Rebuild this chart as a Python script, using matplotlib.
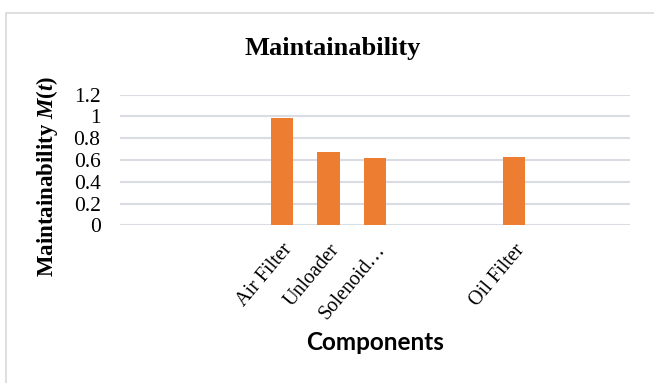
import matplotlib.pyplot as plt
from matplotlib.patches import Rectangle

# categories (Excel chart kept blank slots between the bars)
categories = ['', '', '', 'Air Filter', 'Unloader', 'Solenoid…', '', '', 'Oil Filter', '', '']
values = [0, 0, 0, 0.99, 0.67, 0.615, 0, 0, 0.63, 0, 0]
y_ticks = [0, 0.2, 0.4, 0.6, 0.8, 1, 1.2]
y_tick_labels = ['0', '0.2', '0.4', '0.6', '0.8', '1', '1.2']

serif = ['Liberation Serif', 'DejaVu Serif']
plt.rcParams['mathtext.fontset'] = 'custom'
plt.rcParams['mathtext.rm'] = 'Liberation Serif:bold'
plt.rcParams['mathtext.it'] = 'Liberation Serif:italic:bold'
plt.rcParams['mathtext.bf'] = 'Liberation Serif:bold'

fig = plt.figure(figsize=(6.54, 3.83), dpi=100)
ax = fig.add_axes([0.1835, 0.4117, 0.7795, 0.341])

x = list(range(len(categories)))
ax.bar(x, values, width=0.48, color='#ED7D31', zorder=3)

ax.set_xlim(-0.5, len(categories) - 0.5)
ax.set_ylim(0, 1.2)
ax.set_yticks(y_ticks)
ax.set_yticklabels(y_tick_labels, fontfamily=serif, fontsize=15.5)
ax.yaxis.grid(True, color='#D9DDE3', linewidth=1.5, zorder=0)
ax.set_axisbelow(True)

ax.set_xticks(x)
ax.set_xticklabels(categories, rotation=50, ha='right', rotation_mode='anchor',
                   fontfamily=serif, fontsize=14.5)
ax.tick_params(axis='both', length=0)
ax.tick_params(axis='y', pad=14)
ax.tick_params(axis='x', pad=11)

for s in ax.spines.values():
    s.set_visible(False)

# titles
fig.text(0.509, 0.873, 'Maintainability', ha='center', va='center',
         fontfamily=serif, fontsize=19, fontweight='bold')
fig.text(0.574, 0.105, 'Components', ha='center', va='center',
         fontfamily=['Lato', 'DejaVu Sans'], fontsize=17.5, fontweight='bold')
fig.text(0.072, 0.538, r'Maintainability $M(t)$', ha='center', va='center',
         rotation=90, fontfamily=serif, fontsize=16.5, fontweight='bold')

# light chart border
fig.patches.append(Rectangle((6 / 654, -0.05), 1.1, 1 - 13 / 383 + 0.05,
                             transform=fig.transFigure, fill=False,
                             edgecolor='#D9D9D9', linewidth=1.2))

fig.savefig('out.png', dpi=100)
